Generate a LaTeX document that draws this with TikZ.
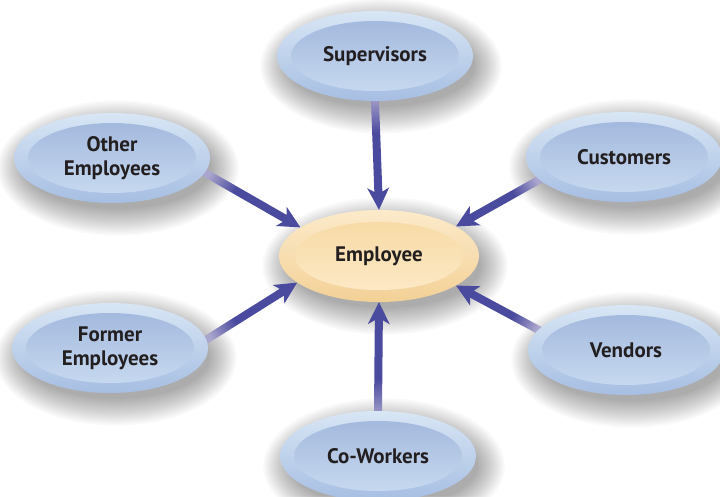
\documentclass[tikz,border=0pt]{standalone}
\usepackage{fontspec}
\setmainfont{PT Sans}
\usetikzlibrary{shapes.geometric,calc}
\definecolor{bOT}{HTML}{D8E6F5}
\definecolor{bOB}{HTML}{A6BEE2}
\definecolor{bIT}{HTML}{9FB5DB}
\definecolor{bIB}{HTML}{CCDDF2}
\definecolor{yOT}{HTML}{FCEACA}
\definecolor{yOB}{HTML}{F3D196}
\definecolor{yIT}{HTML}{F7D8A0}
\definecolor{yIB}{HTML}{FDEBCB}
\definecolor{arrD}{HTML}{4A4A9E}
\definecolor{arrL}{HTML}{A9A5CD}
\definecolor{txt}{HTML}{231F20}
\pgfdeclareverticalshading{arrowshade}{100bp}{color(0bp)=(arrL); color(25bp)=(arrL); color(42bp)=(arrD); color(100bp)=(arrD)}
\pgfdeclarelayer{bglayer}
\pgfdeclarelayer{shadowlayer}
\pgfdeclarelayer{arrowlayer}
\pgfsetlayers{bglayer,shadowlayer,arrowlayer,main}
\tikzset{
  lbl/.style={align=center, font=\bfseries\fontsize{21}{24}\selectfont, text=txt},
  bnode/.style={ellipse, inner sep=0pt, minimum width=196pt, minimum height=90pt,
    top color=bOT, bottom color=bOB, lbl,
    path picture={\shade[top color=bIT, bottom color=bIB] (path picture bounding box.center) ellipse (84pt and 35pt);}},
  enode/.style={ellipse, inner sep=0pt, minimum width=200pt, minimum height=92pt,
    top color=yOT, bottom color=yOB, lbl,
    path picture={\shade[top color=yIT, bottom color=yIB] (path picture bounding box.center) ellipse (84pt and 34pt);}},
}
\newcommand\shadowof[3]{%
  \foreach \k in {0,...,14}{%
    \pgfmathsetmacro\ra{#2-4+1.9*\k}%
    \pgfmathsetmacro\rb{#3-4+1.9*\k}%
    \fill[black, opacity=0.025] ($(#1.center)+(6,10)$) ellipse (\ra pt and \rb pt);
  }}
\newcommand\grarrow[2]{%
  \coordinate (aT) at (#2);
  \coordinate (aS) at ($(#1)!-8pt!(aT)$);
  \coordinate (aH) at ($(aT)!22pt!(aS)$);
  \coordinate (aN) at ($(aT)!18pt!(aS)$);
  \pgfmathanglebetweenpoints{\pgfpointanchor{aS}{center}}{\pgfpointanchor{aT}{center}}%
  \pgfmathsetmacro\shang{\pgfmathresult-90}%
  \shade[shading=arrowshade, shading angle=\shang]
    ($(aS)!4pt!90:(aT)$) -- ($(aN)!4pt!90:(aT)$) -- ($(aH)!11pt!90:(aT)$) -- (aT)
    -- ($(aH)!11pt!-90:(aT)$) -- ($(aN)!4pt!-90:(aT)$) -- ($(aS)!4pt!-90:(aT)$) -- cycle;
}
\begin{document}
\begin{tikzpicture}[x=1pt,y=-1pt]
\useasboundingbox (0,0) rectangle (720,496);
\node[bnode] (sup) at (375,56) {Supervisors};
\node[bnode] (oth) at (112,158) {Other\\Employees};
\node[bnode] (cus) at (624,157) {Customers};
\node[enode] (emp) at (379,256) {Employee};
\node[bnode] (fmr) at (110,348) {Former\\Employees};
\node[bnode] (ven) at (626,350) {Vendors};
\node[bnode] (cow) at (378,456) {Co-Workers};
\begin{pgfonlayer}{bglayer}
  \fill[white] (0,0) rectangle (720,496);
\end{pgfonlayer}
\begin{pgfonlayer}{shadowlayer}
  \shadowof{sup}{98}{45}
  \shadowof{oth}{98}{45}
  \shadowof{cus}{98}{45}
  \shadowof{emp}{100}{46}
  \shadowof{fmr}{98}{45}
  \shadowof{ven}{98}{45}
  \shadowof{cow}{98}{45}
\end{pgfonlayer}
\begin{pgfonlayer}{arrowlayer}
  \grarrow{sup.south}{emp.north}
  \grarrow{cow.north}{emp.south}
  \grarrow{oth.-9}{emp.160}
  \grarrow{cus.195}{emp.21}
  \grarrow{fmr.5}{emp.198}
  \grarrow{ven.167}{emp.-21}
\end{pgfonlayer}
\end{tikzpicture}
\end{document}
